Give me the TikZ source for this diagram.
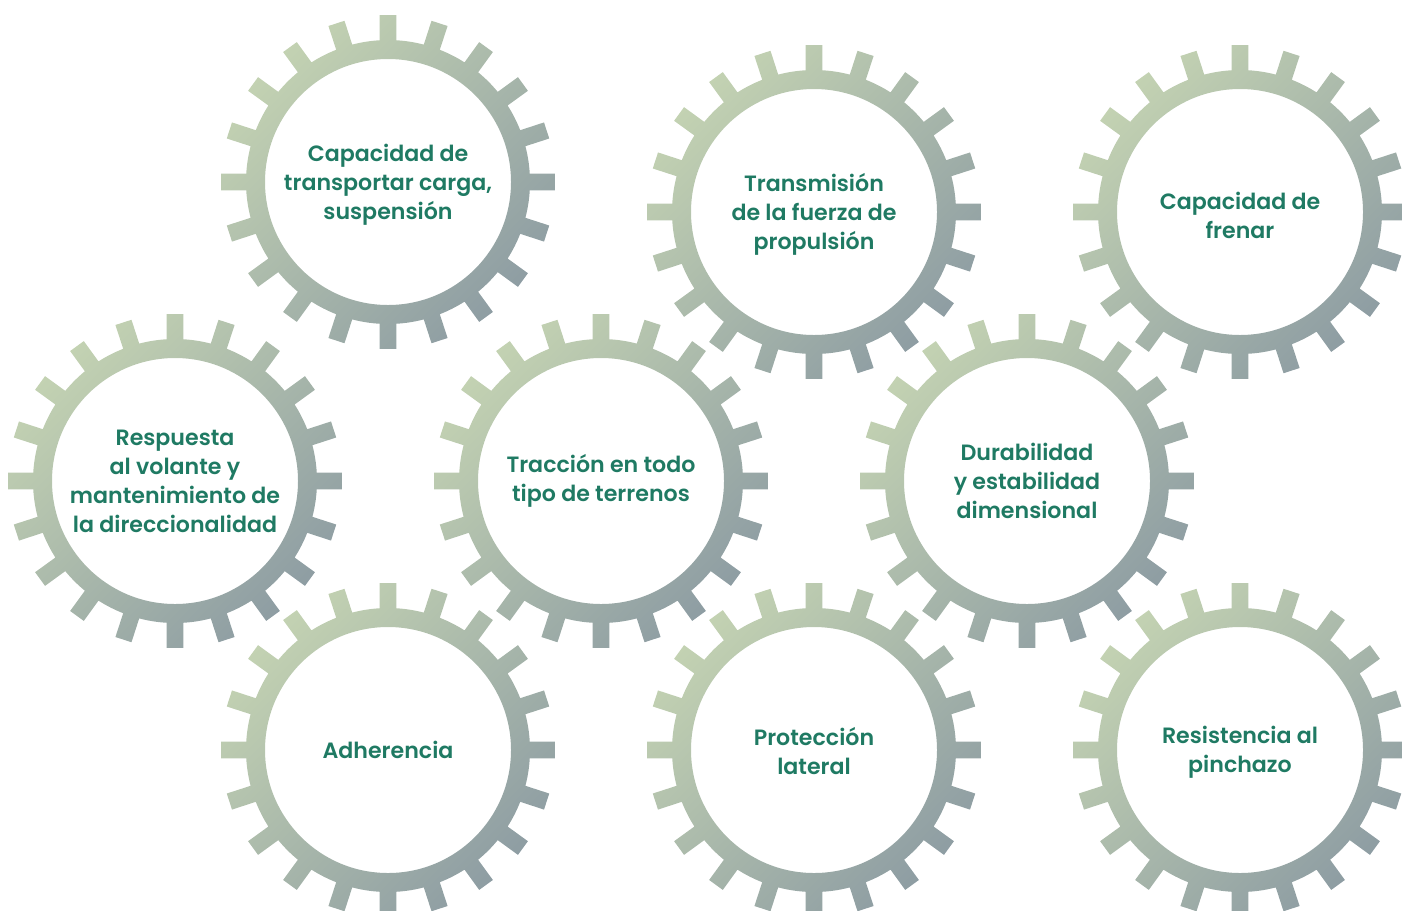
\documentclass[tikz,border=0pt]{standalone}
\usepackage{fontspec}
\setmainfont{Poppins}[BoldFont={* SemiBold}]
\usepackage{tikz}
\definecolor{ink}{HTML}{1F7A63}
\definecolor{sage}{HTML}{C3D2B2}
\definecolor{slate}{HTML}{8E9DA3}
\usetikzlibrary{positioning}
\tikzset{
  every picture/.style={line cap=round, line join=round},
  every node/.style={text=ink},
  caption/.style={font=\bfseries\fontsize{12.6}{16.5}\selectfont, align=center, inner sep=0pt},
  gearshade/.style={top color=sage, bottom color=slate, shading angle=45, even odd rule},
  pics/gearwheel/.style={code={
    \path[gearshade] ({-3.4}:142)
      \foreach \t in {0,18,...,342}{
        -- ({\t-2.9}:167) -- ({\t+2.9}:167) -- ({\t+3.4}:142)
        arc[start angle=\t+3.4, end angle=\t+14.6, radius=142]
      } -- cycle
      (0,0) circle[radius=123];
  }}
}

\begin{document}
\begin{tikzpicture}[x=0.02cm, y=0.02cm]
  \useasboundingbox (0,0) rectangle (1402,-910);
  \clip (0,0) rectangle (1402,-910);

  % top row
  \pic (gcargo) at (388,-182) {gearwheel};
  \pic (gdrive) at (814,-212) {gearwheel};
  \pic (gbrake) at (1240,-212) {gearwheel};
  % middle row
  \pic (gsteer) at (175,-481) {gearwheel};
  \pic (gtract) at (601,-481) {gearwheel};
  \pic (gdurab) at (1027,-481) {gearwheel};
  % bottom row
  \pic (ggrip) at (388,-750) {gearwheel};
  \pic (gside) at (814,-750) {gearwheel};
  \pic (gpunct) at (1240,-750) {gearwheel};

  \node[caption] (cargo) at (388,-185) {Capacidad de\\transportar carga,\\suspensión};
  \node[caption] (drive) at (814,-214) {Transmisión\\de la fuerza de\\propulsión};
  \node[caption] (brake) at (1240,-215) {Capacidad de\\frenar};
  \node[caption] (steer) at (175,-481) {Respuesta\\al volante y\\mantenimiento de\\la direccionalidad};
  \node[caption] (tract) at (601,-481) {Tracción en todo\\tipo de terrenos};
  \node[caption] (durab) at (1027,-481) {Durabilidad\\y estabilidad\\dimensional};
  \node[caption] (grip) at (388,-750) {Adherencia};
  \node[caption] (side) at (814,-751) {Protección\\lateral};
  \node[caption] (punct) at (1240,-752) {Resistencia al\\pinchazo};
\end{tikzpicture}
\end{document}
